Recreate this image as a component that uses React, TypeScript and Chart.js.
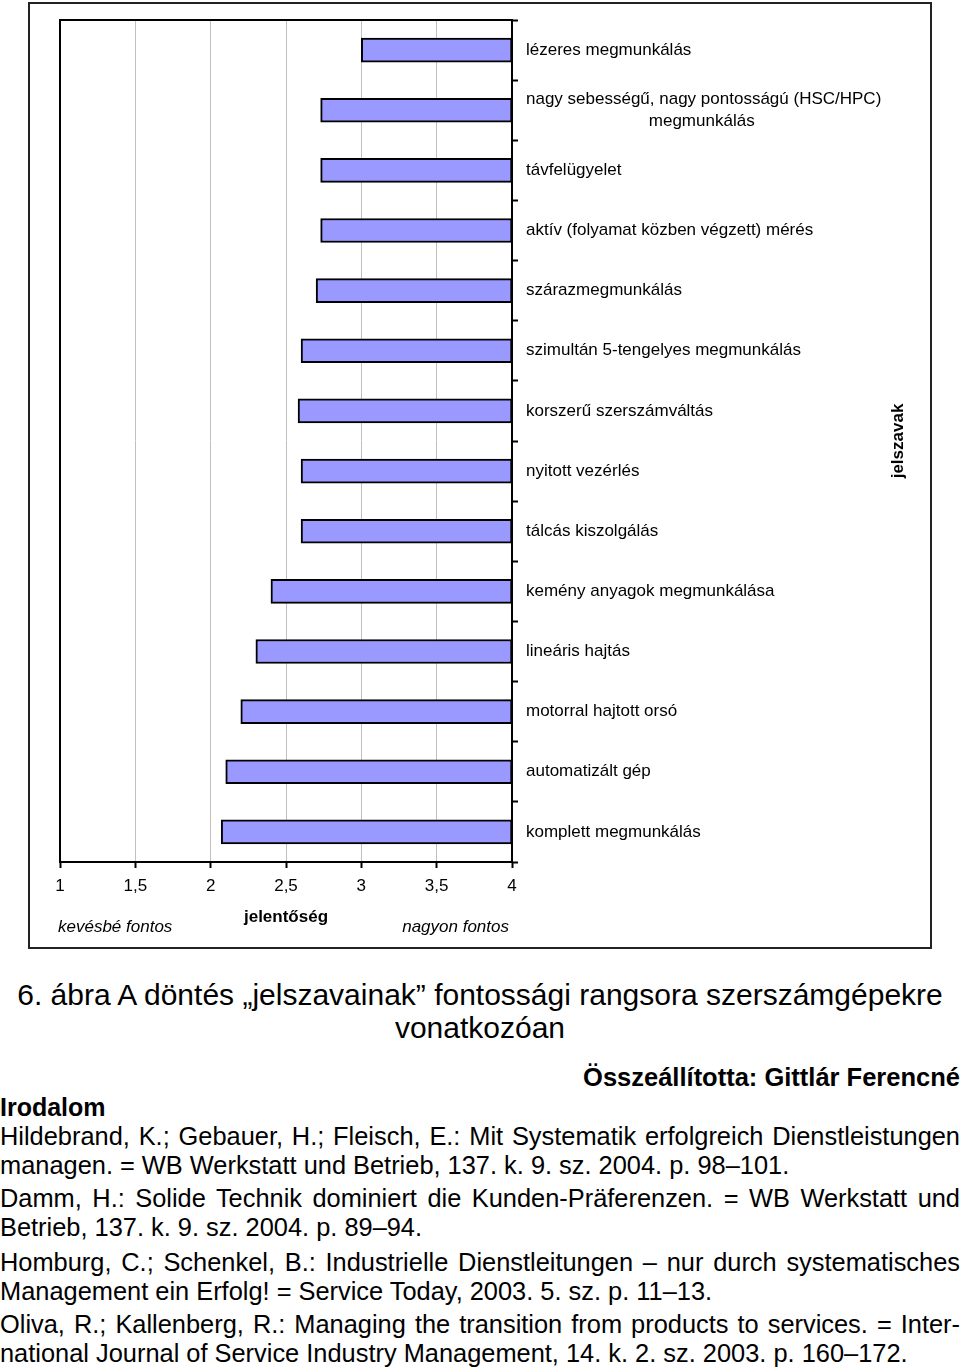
import React, { useEffect, useRef } from "react";
import { Chart, registerables } from "chart.js";

Chart.register(...registerables);

const categories: (string | string[])[] = [
  "lézeres megmunkálás",
  ["nagy sebességű, nagy pontosságú (HSC/HPC)", "megmunkálás"],
  "távfelügyelet",
  "aktív (folyamat közben végzett) mérés",
  "szárazmegmunkálás",
  "szimultán 5-tengelyes megmunkálás",
  "korszerű szerszámváltás",
  "nyitott vezérlés",
  "tálcás kiszolgálás",
  "kemény anyagok megmunkálása",
  "lineáris hajtás",
  "motorral hajtott orsó",
  "automatizált gép",
  "komplett megmunkálás",
];
const values = [3.0, 2.73, 2.73, 2.73, 2.7, 2.6, 2.58, 2.6, 2.6, 2.4, 2.3, 2.2, 2.1, 2.07];
const xTickValues = [1, 1.5, 2, 2.5, 3, 3.5, 4];
const xMin = 1;
const xMax = 4;
const xTitle = "jelentőség";
const yTitle = "jelszavak";
const leftNote = "kevésbé fontos";
const rightNote = "nagyon fontos";

const captionLines = [
  "6. ábra A döntés „jelszavainak” fontossági rangsora szerszámgépekre",
  "vonatkozóan",
];
const author = "Összeállította: Gittlár Ferencné";
const refHeading = "Irodalom";
const references: string[][] = [
  [
    "Hildebrand, K.; Gebauer, H.; Fleisch, E.: Mit Systematik erfolgreich Dienstleistungen",
    "managen. = WB Werkstatt und Betrieb, 137. k. 9. sz. 2004. p. 98–101.",
  ],
  [
    "Damm, H.: Solide Technik dominiert die Kunden-Präferenzen. = WB Werkstatt und",
    "Betrieb, 137. k. 9. sz. 2004. p. 89–94.",
  ],
  [
    "Homburg, C.; Schenkel, B.: Industrielle Dienstleitungen – nur durch systematisches",
    "Management ein Erfolg! = Service Today, 2003. 5. sz. p. 11–13.",
  ],
  [
    "Oliva, R.; Kallenberg, R.: Managing the transition from products to services. = Inter-",
    "national Journal of Service Industry Management, 14. k. 2. sz. 2003. p. 160–172.",
  ],
];

const FONT = "'Liberation Sans', Arial, sans-serif";

function centerLines(lines: string[]): string[] {
  const c = document.createElement("canvas").getContext("2d")!;
  c.font = `17px ${FONT}`;
  const widths = lines.map((l) => c.measureText(l).width);
  const maxW = Math.max(...widths);
  const sp = c.measureText(" ").width;
  return lines.map((l, i) => " ".repeat(Math.round((maxW - widths[i]) / 2 / sp)) + l);
}

const decor = {
  id: "decor",
  afterDraw(chart: any) {
    const { ctx, chartArea: a } = chart;
    ctx.save();
    ctx.strokeStyle = "#222";
    ctx.lineWidth = 2;
    ctx.strokeRect(29, 3, 902, 945);
    ctx.strokeStyle = "#000";
    ctx.beginPath();
    ctx.moveTo(a.left, a.bottom);
    ctx.lineTo(a.left, a.top);
    ctx.lineTo(a.right + 1, a.top);
    ctx.stroke();
    ctx.fillStyle = "#000";
    ctx.textBaseline = "middle";
    ctx.font = `italic 17px ${FONT}`;
    ctx.textAlign = "left";
    ctx.fillText(leftNote, a.left - 2, 927);
    ctx.textAlign = "right";
    ctx.fillText(rightNote, a.right - 3, 927);
    ctx.translate(898, (a.top + a.bottom) / 2);
    ctx.rotate(-Math.PI / 2);
    ctx.font = `bold 17px ${FONT}`;
    ctx.textAlign = "center";
    ctx.fillText(yTitle, 0, 0);
    ctx.restore();
  },
};

function BarChart() {
  const ref = useRef<HTMLCanvasElement>(null);
  useEffect(() => {
    const labels = categories.map((c) => (Array.isArray(c) ? centerLines(c) : c));
    const chart = new Chart(ref.current!, {
      type: "bar",
      data: {
        labels,
        datasets: [
          {
            data: values.map((v) => [v, xMax]) as any,
            backgroundColor: "#9999FF",
            borderColor: "#000",
            borderWidth: 2,
            borderSkipped: false,
            barThickness: 24,
          },
        ],
      },
      options: {
        indexAxis: "y",
        animation: false,
        responsive: false,
        layout: { padding: { left: 60, top: 20, right: 0, bottom: 0 } },
        plugins: { legend: { display: false }, tooltip: { enabled: false } },
        scales: {
          x: {
            type: "linear",
            position: "bottom",
            min: xMin,
            max: xMax,
            afterBuildTicks: (s: any) => {
              s.ticks = xTickValues.map((v) => ({ value: v }));
            },
            afterFit: (s: any) => {
              s.height = 90;
            },
            grid: {
              color: (c: any) =>
                c.tick && (c.tick.value === xMin || c.tick.value === xMax) ? "rgba(0,0,0,0)" : "#c0c0c0",
              lineWidth: 1,
              tickColor: "#000",
              tickWidth: 2,
              tickLength: 6,
            },
            border: { display: true, color: "#000", width: 2 },
            ticks: {
              color: "#000",
              font: { size: 17, family: FONT },
              padding: 8,
              maxRotation: 0,
              callback: (v: any) => String(v).replace(".", ","),
            },
            title: {
              display: true,
              text: xTitle,
              color: "#000",
              font: { size: 17, weight: "bold", family: FONT },
              padding: { top: 0, bottom: 24 },
            },
          },
          y: {
            type: "category",
            position: "right",
            afterFit: (s: any) => {
              s.width = 448;
            },
            grid: {
              drawOnChartArea: false,
              offset: true,
              tickColor: "#000",
              tickWidth: 2,
              tickLength: 6,
            },
            border: { display: true, color: "#000", width: 2 },
            ticks: {
              color: "#000",
              font: { size: 17, family: FONT, lineHeight: 1.3 },
              padding: 8,
              crossAlign: "near",
              autoSkip: false,
            },
          },
        },
      },
      plugins: [decor],
    } as any);
    return () => chart.destroy();
  }, []);
  return <canvas ref={ref} width={960} height={952} style={{ display: "block", position: "absolute", left: 0, top: 0 }} />;
}

function Line({ top, h, children, style }: any) {
  return (
    <div
      style={{
        position: "absolute",
        left: 0,
        width: 960,
        top: top - h / 2,
        height: h,
        lineHeight: `${h}px`,
        whiteSpace: "nowrap",
        color: "#000",
        fontFamily: FONT,
        ...style,
      }}
    >
      {children}
    </div>
  );
}

export default function App() {
  useEffect(() => {
    document.body.style.margin = "0";
  }, []);
  const refCenters = [
    [1136, 1165],
    [1198, 1227],
    [1262, 1291],
    [1324, 1353],
  ];
  return (
    <div style={{ position: "relative", width: 960, height: 1367, background: "#fff", overflow: "hidden" }}>
      <BarChart />
      <Line top={995} h={34} style={{ textAlign: "center", fontSize: 30 }}>
        {captionLines[0]}
      </Line>
      <Line top={1028} h={34} style={{ textAlign: "center", fontSize: 30 }}>
        {captionLines[1]}
      </Line>
      <Line top={1077} h={30} style={{ textAlign: "right", fontSize: 25.5, fontWeight: "bold" }}>
        {author}
      </Line>
      <Line top={1107} h={30} style={{ textAlign: "left", fontSize: 25, fontWeight: "bold" }}>
        {refHeading}
      </Line>
      {references.map((p, i) =>
        p.map((ln, j) => (
          <Line
            key={`${i}-${j}`}
            top={refCenters[i][j]}
            h={29}
            style={{
              fontSize: 25.4,
              textAlign: j === 0 ? "justify" : "left",
              textAlignLast: j === 0 ? "justify" : "left",
              wordSpacing: j === 0 ? "-2px" : "0px",
            }}
          >
            {ln}
          </Line>
        ))
      )}
    </div>
  );
}
